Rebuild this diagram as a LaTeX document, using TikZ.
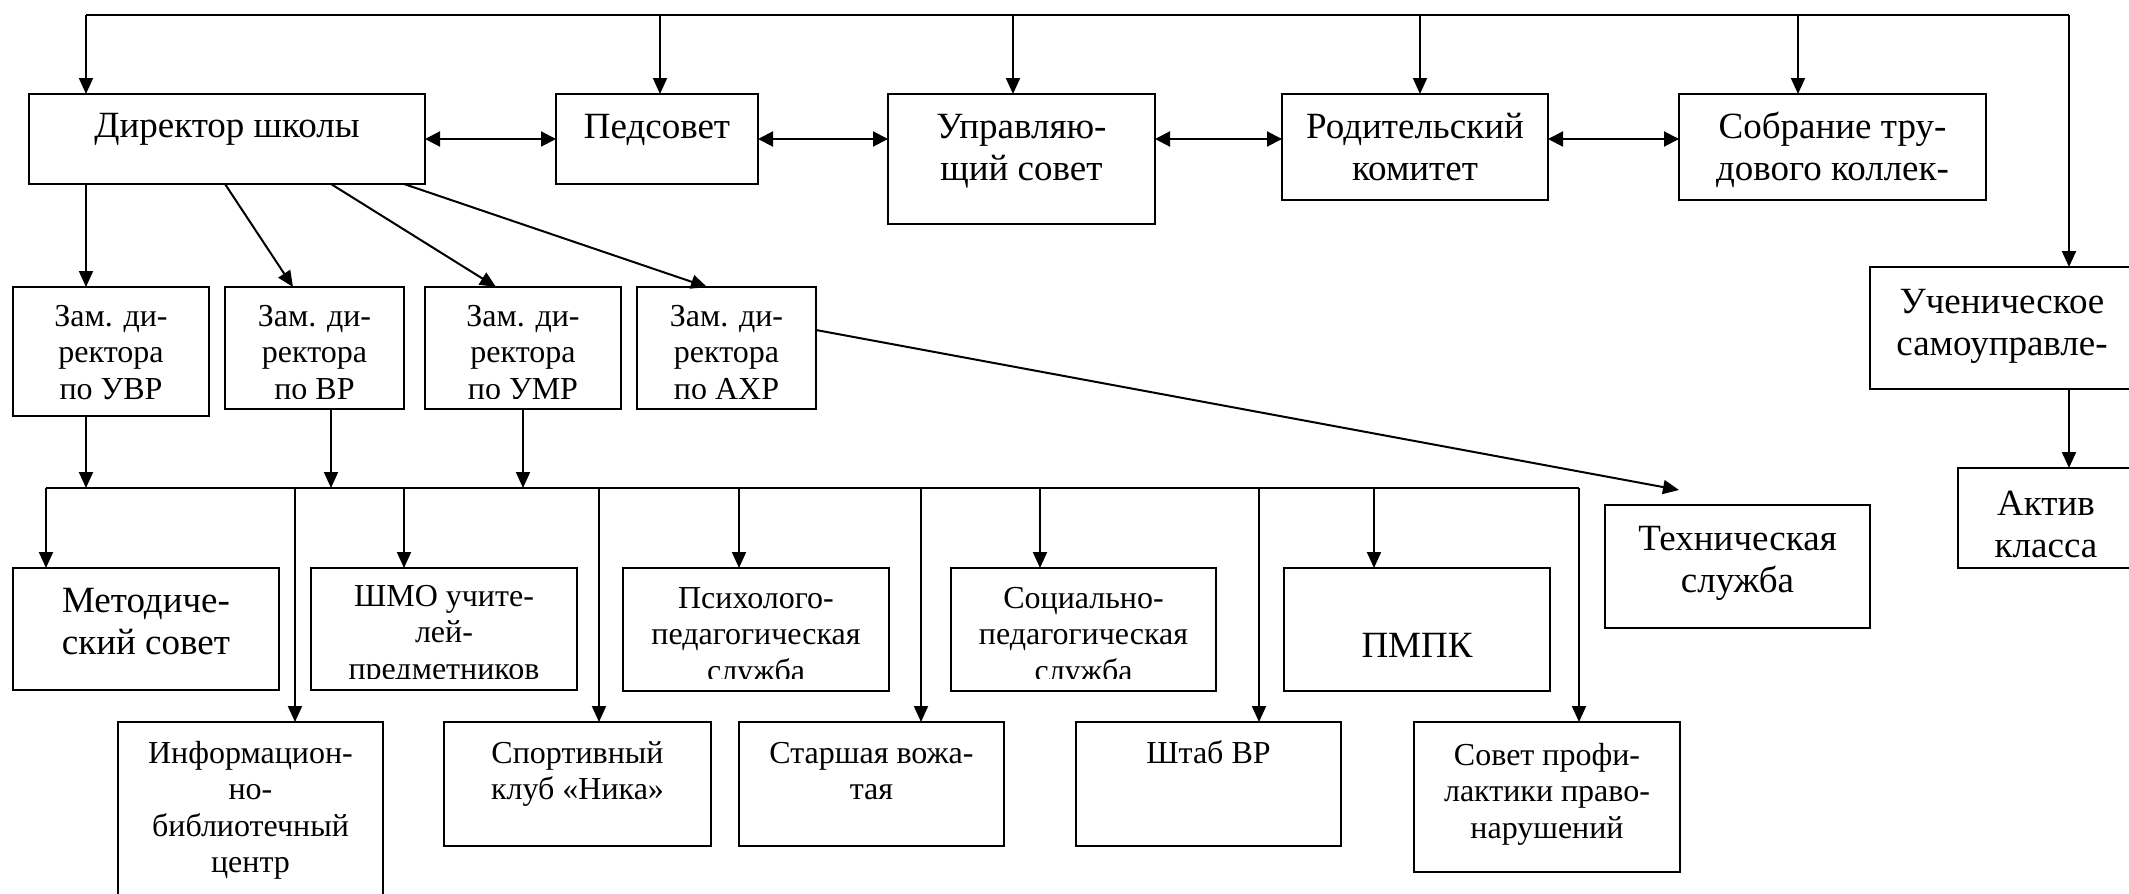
\documentclass[tikz,border=0pt]{standalone}
\usepackage{fontspec}
\setmainfont{Liberation Serif}
\usetikzlibrary{arrows.meta}
\newcommand\bigf{\fontsize{37}{42.5}\selectfont}
\newcommand\smf{\fontsize{32}{36.5}\selectfont}
\newcommand\lns[1]{\begin{tabular}[t]{@{}c@{}}#1\end{tabular}}
\newcommand\bx[5]{\node[box, minimum width={#4-#2}, minimum height={#5-#3}] (#1) at ({(#2+#4)/2},{(#3+#5)/2}) {};}
\tikzset{
  box/.style={draw, line width=2pt, rectangle, inner sep=0pt, outer sep=0pt},
  txt/.style={anchor=base, inner sep=0pt, outer sep=0pt},
  ln/.style={line width=2pt},
  arr/.style={line width=2pt, -{Triangle[length=16pt,width=14pt]}},
  dbl/.style={line width=2pt, {Triangle[length=15pt,width=15pt]}-{Triangle[length=15pt,width=15pt]}}
}
\begin{document}
\begin{tikzpicture}[x=1pt,y=-1pt]
\clip (0,0) rectangle (2129,894);
\fill[white] (0,0) rectangle (2129,894);
% boxes
\bx{dir}{29}{94}{425}{184}
\bx{ped}{556}{94}{758}{184}
\bx{upr}{888}{94}{1155}{224}
\bx{rod}{1282}{94}{1548}{200}
\bx{sob}{1679}{94}{1986}{200}
\bx{uch}{1870}{267}{2134}{389}
\bx{akt}{1958}{468}{2134}{568}
\bx{tex}{1605}{505}{1870}{628}
\bx{zam1}{13}{287}{209}{416}
\bx{zam2}{225}{287}{404}{409}
\bx{zam3}{425}{287}{621}{409}
\bx{zam4}{637}{287}{816}{409}
\bx{met}{13}{568}{279}{690}
\bx{shmo}{311}{568}{577}{690}
\bx{psy}{623}{568}{889}{691}
\bx{soc}{951}{568}{1216}{691}
\bx{pmpk}{1284}{568}{1550}{691}
\bx{inf}{118}{722}{383}{910}
\bx{spo}{444}{722}{711}{846}
\bx{sta}{739}{722}{1004}{846}
\bx{sht}{1076}{722}{1341}{846}
\bx{sov}{1414}{722}{1680}{872}
% texts
\node[txt,font=\bigf] (t-dir) at (dir.center |- 0,137) {\lns{Директор школы}};
\node[txt,font=\bigf] (t-ped) at (ped.center |- 0,138) {\lns{Педсовет}};
\node[txt,font=\bigf] (t-upr) at (upr.center |- 0,138) {\lns{Управляю-\\щий совет}};
\node[txt,font=\bigf] (t-rod) at (rod.center |- 0,138) {\lns{Родительский\\комитет}};
\node[txt,font=\bigf] (t-sob) at (sob.center |- 0,138) {\lns{Собрание тру-\\дового коллек-}};
\node[txt,font=\bigf] (t-uch) at (uch.center |- 0,313) {\lns{Ученическое\\самоуправле-}};
\node[txt,font=\bigf] (t-akt) at (akt.center |- 0,515) {\lns{Актив\\класса}};
\node[txt,font=\bigf] (t-tex) at (tex.center |- 0,550) {\lns{Техническая\\служба}};
\node[txt,font=\smf] (t-zam1) at (zam1.center |- 0,326) {\lns{Зам. ди-\\ректора\\по УВР}};
\begin{scope}
\clip (225,287) rectangle (404,398);
\node[txt,font=\smf] (t-zam2) at (zam2.center |- 0,326) {\lns{Зам. ди-\\ректора\\по ВР}};
\end{scope}
\begin{scope}
\clip (425,287) rectangle (621,398);
\node[txt,font=\smf] (t-zam3) at (zam3.center |- 0,326) {\lns{Зам. ди-\\ректора\\по УМР}};
\end{scope}
\begin{scope}
\clip (637,287) rectangle (816,398);
\node[txt,font=\smf] (t-zam4) at (zam4.center |- 0,326) {\lns{Зам. ди-\\ректора\\по АХР}};
\end{scope}
\node[txt,font=\bigf] (t-met) at (met.center |- 0,612) {\lns{Методиче-\\ский совет}};
\begin{scope}
\clip (311,568) rectangle (577,678);
\node[txt,font=\smf] (t-shmo) at (shmo.center |- 0,606) {\lns{ШМО учите-\\лей-\\предметников}};
\end{scope}
\begin{scope}
\clip (623,568) rectangle (889,678);
\node[txt,font=\smf] (t-psy) at (psy.center |- 0,608) {\lns{Психолого-\\педагогическая\\служба}};
\end{scope}
\begin{scope}
\clip (951,568) rectangle (1216,678);
\node[txt,font=\smf] (t-soc) at (soc.center |- 0,608) {\lns{Социально-\\педагогическая\\служба}};
\end{scope}
\node[txt,font=\bigf] (t-pmpk) at (pmpk.center |- 0,657) {\lns{ПМПК}};
\node[txt,font=\smf] (t-inf) at (inf.center |- 0,763) {\lns{Информацион-\\но-\\библиотечный\\центр}};
\node[txt,font=\smf] (t-spo) at (spo.center |- 0,763) {\lns{Спортивный\\клуб «Ника»}};
\node[txt,font=\smf] (t-sta) at (sta.center |- 0,763) {\lns{Старшая вожа-\\тая}};
\node[txt,font=\smf] (t-sht) at (sht.center |- 0,763) {\lns{Штаб ВР}};
\node[txt,font=\smf] (t-sov) at (sov.center |- 0,765) {\lns{Совет профи-\\лактики право-\\нарушений}};
% top bus
\coordinate (tb1) at (86,15);
\coordinate (tb2) at (660,15);
\coordinate (tb3) at (1013,15);
\coordinate (tb4) at (1420,15);
\coordinate (tb5) at (1798,15);
\coordinate (tr) at (2069,15);
\draw[ln] (tb1) -- (tr);
\draw[arr] (tb1) -- (tb1 |- dir.north);
\draw[arr] (tb2) -- (tb2 |- ped.north);
\draw[arr] (tb3) -- (tb3 |- upr.north);
\draw[arr] (tb4) -- (tb4 |- rod.north);
\draw[arr] (tb5) -- (tb5 |- sob.north);
\draw[arr] (tr) -- (tr |- uch.north);
\draw[arr] (tr |- uch.south) -- (tr |- akt.north);
% horizontal double arrows
\draw[dbl] (dir.east) -- (ped.west);
\draw[dbl] (ped.east) -- (upr.west |- ped.east);
\draw[dbl] (upr.east |- ped.east) -- (rod.west |- ped.east);
\draw[dbl] (rod.east |- ped.east) -- (sob.west |- ped.east);
% director to deputies
\draw[arr] (dir.south -| tb1) -- (tb1 |- zam1.north);
\draw[arr] (dir.south -| 225,0) -- (zam2.north -| 293,0);
\draw[arr] (dir.south -| 331,0) -- (zam3.north -| 496,0);
\draw[arr] (dir.south -| 404,0) -- (zam4.north -| 707,0);
% deputy AXR to technical service
\coordinate (ttip) at (1679,490);
\draw[arr] (zam4.east |- 0,330) -- (ttip);
% lower bus
\coordinate (bl) at (46,488);
\coordinate (br) at (1579,488);
\draw[ln] (bl) -- (br);
\draw[arr] (zam1.south -| 86,0) -- (bl -| 86,0);
\draw[arr] (zam2.south -| 331,0) -- (bl -| 331,0);
\draw[arr] (zam3.south -| 523,0) -- (bl -| 523,0);
\foreach \xx/\nn in {46/met, 404/shmo, 739/psy, 1040/soc, 1374/pmpk, 295/inf, 599/spo, 921/sta, 1259/sht, 1579/sov}
  \draw[arr] (bl -| \xx,0) -- (\nn.north -| \xx,0);
\end{tikzpicture}
\end{document}
